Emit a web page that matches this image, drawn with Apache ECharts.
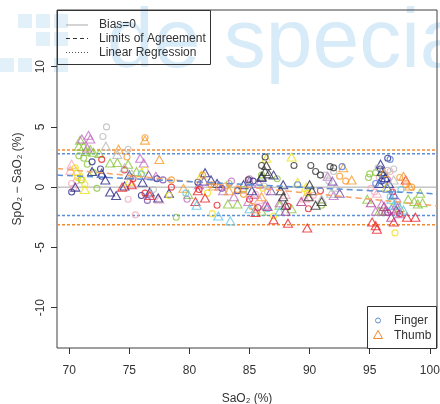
<!DOCTYPE html>
<html>
<head>
    <meta charset="utf-8"/>
    <style>
        html, body {
            height: 100%;
            margin: 0;
            padding: 0;
            background: #ffffff;
        }

        .container {
            width: 440px;
            height: 404px;
        }
    </style>
</head>
<body>
<div id="main" class="container"></div>
<script src="https://cdn.jsdelivr.net/npm/echarts@6/dist/echarts.min.js"></script>
<script type="text/javascript">
// axis ranges and tick labels
var xMin = 68.98, xMax = 100.6;
var yMin = -13.35, yMax = 14.7;
var xTicks = [70, 75, 80, 85, 90, 95, 100];
var yTicks = [-10, -5, 0, 5, 10];

// limits of agreement (finger / thumb)
var fingerLimits = [2.78, -2.35];
var thumbLimits = [3.08, -3.13];
// regression lines, y at xMin and xMax
var fingerReg = [1.0, -0.56];
var thumbReg = [1.55, -1.55];

// one colour per subject, [SaO2, difference] pairs
var pinkFinger = [[70.2,0.3],[70.35,-0.1],[70.6,0.5],[74.9,-1.0],[75.5,-2.3],[84.5,-0.3],[85.5,-0.6],[86.5,-0.4],[95.1,-0.1],[95.4,-0.4],[95.8,0.8],[96.7,1.3],[90.3,-0.7]];
var pinkThumb = [[70.2,1.9],[70.1,1.4],[75.2,0.35],[76.7,-0.55],[77.5,-1.0],[85.8,-1.0],[86.4,-1.4],[89.6,-0.9],[90.0,-0.8],[95.6,-0.5],[88.0,-0.6]];
var greenFinger = [[70.8,2.6],[71.2,2.4],[71.5,1.9],[71.0,0.6],[72.0,1.2],[72.3,-0.1],[78.9,-2.5],[83.3,0.3],[84.5,-0.2],[86.0,1.0],[87.3,0.7],[95.0,1.1],[95.5,1.2],[96.0,1.0],[94.9,0.8],[91.0,-1.5]];
var greenThumb = [[70.9,3.9],[70.8,3.4],[71.2,3.4],[71.35,2.95],[71.75,3.1],[72.0,2.9],[72.5,2.8],[73.4,2.0],[74.0,2.05],[75.6,1.3],[74.9,1.9],[79.9,-0.6],[83.2,-1.4],[84.0,-1.4],[86.0,-2.0],[87.5,-1.5],[88.5,-1.8],[94.8,-1.0],[95.8,-2.0],[96.0,-2.0],[98.2,-1.0],[98.7,-1.2],[99.0,-1.4],[97.5,-1.7],[99.2,-0.5],[99.4,-1.3]];
var orchidFinger = [[79.8,-1.0],[83.5,0.5],[85.0,0.7],[96.5,0.6],[97.0,-0.8],[97.3,-1.2]];
var orchidThumb = [[71.05,4.0],[71.6,4.3],[71.75,4.0],[71.5,3.25],[75.9,2.4],[76.2,2.0],[77.2,0.9],[80.8,0.2],[82.5,0.1],[82.8,-0.3],[83.7,-0.8],[84.9,-1.2],[85.4,-0.6],[85.8,0.3],[86.3,-1.5],[91.5,0.9],[92.0,-0.7],[95.5,-2.0],[96.8,-1.8],[97.2,-1.5],[97.5,-2.2],[96.0,-1.4],[87.5,-1.3]];
var navyFinger = [[71.9,2.1],[70.2,-0.4],[72.6,1.5],[72.7,0.9],[76.0,-0.7],[77.3,0.7],[80.7,0.4],[84.0,-0.3],[85.3,0.5],[95.9,1.5],[96.2,1.0],[96.0,0.5],[96.5,2.4]];
var navyThumb = [[70.5,0.0],[71.9,1.3],[72.7,1.15],[73.0,0.6],[73.4,-0.4],[73.9,-0.7],[74.6,0.1],[75.0,1.0],[76.1,0.4],[76.7,-0.4],[77.4,-0.9],[78.3,-0.5],[81.3,1.2],[81.8,0.6],[82.3,0.3],[84.5,0.2],[85.2,-0.3],[86.0,0.8],[87.0,1.0],[87.8,0.2],[95.9,1.9],[96.0,1.3],[96.3,0.8],[96.6,0.3],[95.8,0.3]];
var yellowFinger = [[70.5,1.6],[70.7,0.8],[71.3,0.2],[76.3,1.4],[78.3,-0.7],[81.5,-0.5],[81.9,-2.2],[86.1,-0.1],[87.0,-2.4],[89.8,-0.5],[97.1,-3.8],[96.9,-1.2]];
var yellowThumb = [[70.6,1.3],[71.0,0.9],[71.3,-0.2],[75.0,0.5],[76.0,1.2],[81.0,1.0],[86.4,2.4],[88.5,2.5],[89.0,0.4],[89.7,0.0],[96.4,0.0]];
var redFinger = [[72.7,2.3],[74.6,1.43],[75.3,0.7],[76.3,-0.5],[78.5,0.0],[80.8,-0.2],[82.3,-1.5],[85.0,-1.0],[88.2,-1.6],[89.9,-1.8],[90.9,-0.3],[96.9,-0.4],[97.5,-2.2]];
var redThumb = [[74.4,0.0],[75.2,0.2],[76.7,-0.7],[80.7,-0.3],[80.5,-1.2],[81.3,-0.9],[85.5,-2.1],[87.0,-2.7],[88.2,-3.0],[89.8,-3.4],[95.2,-2.9],[95.5,-3.2],[95.6,-3.5],[98.8,-2.5],[98.1,-2.5],[97.0,-2.9],[98.0,0.6]];
var orangeFinger = [[74.8,2.5],[76.3,4.1],[78.5,0.6],[81.1,1.0],[83.0,0.1],[84.5,-0.6],[85.2,-1.6],[92.5,0.9],[93.0,0.5],[97.5,0.8],[98.0,0.2],[98.5,0.0],[84.0,-0.2],[81.8,0.2]];
var orangeThumb = [[74.1,3.15],[76.3,3.9],[77.5,2.3],[79.5,-0.1],[82.0,0.1],[83.3,-0.3],[85.5,-1.8],[86.0,-0.8],[92.8,1.6],[96.2,1.2],[97.8,0.9],[98.3,0.1],[93.5,0.6]];
var grayFinger = [[73.1,5.0],[72.8,4.2],[74.9,3.15],[86.2,0.1],[91.3,1.0],[91.6,0.5],[92.0,1.3],[96.5,1.4],[97.0,1.5],[95.7,1.6],[77.0,-0.2]];
var grayThumb = [[73.05,3.4],[74.6,1.6],[75.2,1.1],[91.0,-1.0],[91.8,-0.5],[92.2,0.0],[97.0,0.6],[74.0,2.7]];
var blackFinger = [[86.3,2.5],[86.0,1.8],[88.7,1.8],[90.1,1.8],[90.5,1.3],[90.9,1.0],[91.7,1.7],[92.0,1.6],[84.9,0.6]];
var blackThumb = [[86.4,1.8],[86.3,1.3],[86.6,1.1],[86.0,0.9],[87.6,-0.3],[87.8,-0.8],[88.0,-1.5],[89.9,-0.8],[90.2,-0.3],[90.5,-1.5],[91.0,-1.2],[90.0,0.2]];
var cyanFinger = [[79.7,-0.5],[76.0,1.1],[86.5,-1.8],[96.7,-0.8],[97.3,-1.5],[97.6,-0.2]];
var cyanThumb = [[80.6,-1.5],[83.4,-2.8],[82.4,-2.4],[85.0,-1.8],[87.5,-2.0],[96.8,-1.0],[97.0,-1.5],[97.8,-1.9],[96.5,-2.0]];
var blueFinger = [[96.7,2.3],[92.7,1.7],[95.5,0.3],[89.0,0.2]];
var blueThumb = [[96.0,0.7],[97.0,-0.6],[96.5,-0.1]];
var violetFinger = [[96.5,-2.1],[85.7,-1.7]];
var violetThumb = [[86.5,-1.6],[88.0,-2.0],[89.3,-1.2],[96.3,-2.0],[96.8,-2.5],[97.2,-1.9],[95.1,-1.3],[96.2,-1.6]];
var purpleFinger = [[76.5,-1.1],[77.8,0.6],[82.7,-0.1]];
var purpleThumb = [[76.6,1.0],[81.2,0.5],[85.0,0.5],[86.8,-0.3],[91.9,0.5],[92.5,-0.5]];

var subjects = [
    {color: '#f4a6bb', finger: pinkFinger, thumb: pinkThumb},
    {color: '#8cc63e', finger: greenFinger, thumb: greenThumb},
    {color: '#c46fc4', finger: orchidFinger, thumb: orchidThumb},
    {color: '#2c2c88', finger: navyFinger, thumb: navyThumb},
    {color: '#f0e01c', finger: yellowFinger, thumb: yellowThumb},
    {color: '#e8232a', finger: redFinger, thumb: redThumb},
    {color: '#f7992a', finger: orangeFinger, thumb: orangeThumb},
    {color: '#b9b9b9', finger: grayFinger, thumb: grayThumb},
    {color: '#333333', finger: blackFinger, thumb: blackThumb},
    {color: '#5cc6e6', finger: cyanFinger, thumb: cyanThumb},
    {color: '#4f78d4', finger: blueFinger, thumb: blueThumb},
    {color: '#b23a8c', finger: violetFinger, thumb: violetThumb},
    {color: '#7a4fb0', finger: purpleFinger, thumb: purpleThumb}
];

var fingerColor = '#5b8fd6';
var thumbColor = '#f28a30';
var font = "'Liberation Sans', Arial, sans-serif";
var textColor = '#333333';

var myChart = echarts.init(document.getElementById('main'), null, {renderer: 'canvas'});

var series = [];

// horizontal line across the whole plot
function hLine(v, color, width, dash) {
    return {
        type: 'line',
        symbol: 'none',
        showSymbol: false,
        silent: true,
        data: [[xMin, v], [xMax, v]],
        lineStyle: {color: color, width: width, type: dash},
        z: 1
    };
}

// bias line and limits of agreement
series.push(hLine(0, '#a8a8a8', 1, 'solid'));
series.push(hLine(fingerLimits[0], fingerColor, 1.5, [3, 2]));
series.push(hLine(fingerLimits[1], fingerColor, 1.5, [3, 2]));
series.push(hLine(thumbLimits[0], thumbColor, 1.5, [3, 2]));
series.push(hLine(thumbLimits[1], thumbColor, 1.5, [3, 2]));

// points, one pair of series per subject
subjects.forEach(function (s) {
    series.push({
        type: 'scatter',
        symbol: 'circle',
        symbolSize: 6,
        data: s.finger,
        itemStyle: {color: 'transparent', borderColor: s.color, borderWidth: 1.1},
        z: 3
    });
    series.push({
        type: 'scatter',
        symbol: 'triangle',
        symbolSize: [9, 8],
        data: s.thumb,
        itemStyle: {color: 'transparent', borderColor: s.color, borderWidth: 1.1},
        z: 3
    });
});

// regression lines
series.push({
    type: 'line',
    symbol: 'none',
    showSymbol: false,
    silent: true,
    data: [[xMin, thumbReg[0]], [xMax, thumbReg[1]]],
    lineStyle: {color: '#f5a365', width: 1.5, type: [6, 4]},
    z: 5
});
series.push({
    type: 'line',
    symbol: 'none',
    showSymbol: false,
    silent: true,
    data: [[xMin, fingerReg[0]], [xMax, fingerReg[1]]],
    lineStyle: {color: fingerColor, width: 1.5, type: [6, 4]},
    z: 5
});

var option = {
    animation: false,
    backgroundColor: '#ffffff',
    textStyle: {fontFamily: font},
    grid: {
        left: 57,
        right: 3,
        top: 10,
        bottom: 56,
        containLabel: false,
        outerBoundsMode: 'none',
        show: true,
        borderColor: '#404040',
        borderWidth: 1,
        backgroundColor: 'transparent'
    },
    xAxis: {
        type: 'value',
        min: xMin,
        max: xMax,
        name: 'SaO₂ (%)',
        nameLocation: 'middle',
        nameGap: 45,
        nameTextStyle: {color: textColor, fontSize: 12, fontFamily: font},
        axisLine: {show: false, onZero: false},
        axisTick: {show: true, length: 6, customValues: xTicks, lineStyle: {color: '#333'}},
        axisLabel: {customValues: xTicks, color: textColor, fontSize: 12, margin: 17, fontFamily: font},
        splitLine: {show: false}
    },
    yAxis: {
        type: 'value',
        min: yMin,
        max: yMax,
        name: 'SpO₂ − SaO₂ (%)',
        nameLocation: 'middle',
        nameRotate: 90,
        nameGap: 33,
        nameTextStyle: {color: textColor, fontSize: 12, fontFamily: font},
        axisLine: {show: false, onZero: false},
        axisTick: {show: true, length: 6, customValues: yTicks, lineStyle: {color: '#333'}},
        axisLabel: {customValues: yTicks, rotate: 90, color: textColor, fontSize: 12, margin: 10, fontFamily: font},
        splitLine: {show: false}
    },
    graphic: [
        // faint watermark behind the plot
        {type: 'text', left: 107, top: 2, z: -10, silent: true,
            style: {text: 'de specia', font: '84px ' + font, fill: '#d8ebf8'}},
        {type: 'rect', shape: {x: 18, y: 14, width: 14, height: 14}, z: -10, style: {fill: '#e2f0fa'}},
        {type: 'rect', shape: {x: 36, y: 14, width: 14, height: 14}, z: -10, style: {fill: '#e2f0fa'}},
        {type: 'rect', shape: {x: 54, y: 14, width: 14, height: 14}, z: -10, style: {fill: '#e2f0fa'}},
        {type: 'rect', shape: {x: 36, y: 32, width: 14, height: 14}, z: -10, style: {fill: '#e2f0fa'}},
        {type: 'rect', shape: {x: 54, y: 32, width: 14, height: 14}, z: -10, style: {fill: '#e2f0fa'}},
        {type: 'rect', shape: {x: 0, y: 58, width: 14, height: 14}, z: -10, style: {fill: '#e2f0fa'}},
        {type: 'rect', shape: {x: 18, y: 58, width: 14, height: 14}, z: -10, style: {fill: '#e2f0fa'}},
        {type: 'rect', shape: {x: 54, y: 58, width: 14, height: 14}, z: -10, style: {fill: '#e2f0fa'}},

        // legend for the lines (no fill, watermark shows through)
        {type: 'rect', shape: {x: 57.5, y: 10.5, width: 153, height: 54}, z: 20,
            style: {fill: 'none', stroke: '#333', lineWidth: 1}},
        {type: 'line', shape: {x1: 66, y1: 25, x2: 88, y2: 25}, z: 21,
            style: {stroke: '#a8a8a8', lineWidth: 1}},
        {type: 'line', shape: {x1: 66, y1: 38.5, x2: 88, y2: 38.5}, z: 21,
            style: {stroke: '#333', lineWidth: 1, lineDash: [4, 3]}},
        {type: 'line', shape: {x1: 66, y1: 52.5, x2: 88, y2: 52.5}, z: 21,
            style: {stroke: '#555', lineWidth: 1, lineDash: [1, 2]}},
        {type: 'text', x: 99, y: 25, z: 21,
            style: {text: 'Bias=0', font: '12px ' + font, fill: textColor, verticalAlign: 'middle'}},
        {type: 'text', x: 99, y: 38.5, z: 21,
            style: {text: 'Limits of Agreement', font: '12px ' + font, fill: textColor, verticalAlign: 'middle'}},
        {type: 'text', x: 99, y: 52.5, z: 21,
            style: {text: 'Linear Regression', font: '12px ' + font, fill: textColor, verticalAlign: 'middle'}},

        // legend for the sensors
        {type: 'rect', shape: {x: 367.5, y: 306.5, width: 69, height: 42}, z: 20,
            style: {fill: '#ffffff', stroke: '#333', lineWidth: 1}},
        {type: 'circle', shape: {cx: 378, cy: 320.5, r: 2.5}, z: 21,
            style: {fill: 'none', stroke: fingerColor, lineWidth: 1}},
        {type: 'polygon', shape: {points: [[378, 330.5], [382.5, 338.5], [373.5, 338.5]]}, z: 21,
            style: {fill: 'none', stroke: thumbColor, lineWidth: 1}},
        {type: 'text', x: 394, y: 321, z: 21,
            style: {text: 'Finger', font: '12px ' + font, fill: textColor, verticalAlign: 'middle'}},
        {type: 'text', x: 394, y: 335.5, z: 21,
            style: {text: 'Thumb', font: '12px ' + font, fill: textColor, verticalAlign: 'middle'}}
    ],
    series: series
};

myChart.setOption(option);
</script>
</body>
</html>
